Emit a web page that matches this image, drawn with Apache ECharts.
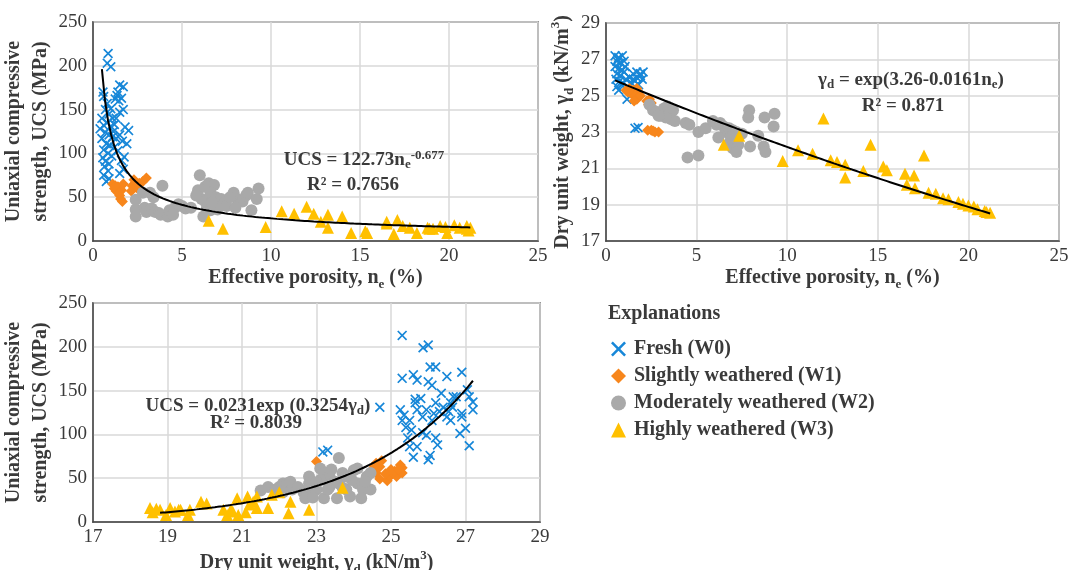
<!DOCTYPE html>
<html>
<head>
<meta charset="utf-8">
<script src="https://cdn.jsdelivr.net/npm/echarts@6/dist/echarts.min.js"></script>
<style>
  html, body { margin: 0; padding: 0; background: #fff; }
  #chart { width: 1072px; height: 570px; }
</style>
</head>
<body>
<div id="chart"></div>
<script>
// effective porosity (%) vs UCS (MPa)
const poroUcsW0 = [[0.85,214],[0.8,203],[1.0,199],[0.56,170],[0.6,165],[1.5,178],[1.7,176],[1.35,166],[1.45,160],[1.6,163],[1.25,162],[1.7,150],[0.7,150],[1.5,147],[0.5,140],[0.9,145],[1.1,140],[0.6,132],[0.8,135],[1.0,131],[1.2,133],[1.8,130],[2.0,126],[0.4,128],[0.7,124],[0.9,121],[1.1,119],[1.3,117],[1.5,121],[1.65,114],[0.5,117],[0.75,111],[0.95,109],[1.2,107],[0.6,104],[0.85,100],[1.05,97],[1.4,103],[0.55,95],[0.7,91],[0.9,88],[1.6,92],[0.65,85],[0.85,80],[1.7,82],[0.6,75],[0.9,71],[1.5,77],[0.75,68],[1.75,96],[1.0,151],[1.3,140],[0.8,157],[1.9,111],[1.15,125],[1.4,170]]
const poroUcsW1 = [[1.1,65],[1.2,60],[1.3,57],[1.4,62],[1.5,52],[1.55,48],[1.6,58],[1.7,65],[1.45,55],[2.2,63],[2.3,70],[2.4,67],[2.5,60],[2.6,66],[2.8,68],[3.0,72],[2.15,57],[2.45,62],[1.25,63],[1.65,45]]
const poroUcsW2 = [[2.4,47],[2.4,36],[2.4,28],[2.8,55],[2.9,38],[3.0,33],[3.2,55],[3.4,50],[3.3,37],[3.5,33],[3.7,32],[3.9,63],[3.8,30],[4.2,28],[4.3,35],[4.6,38],[5.0,40],[5.2,37],[5.5,38],[4.8,42],[6.0,75],[5.9,58],[6.1,48],[6.3,45],[6.3,62],[6.5,66],[6.8,64],[6.6,55],[6.9,50],[7.0,42],[7.2,48],[7.4,44],[6.4,38],[6.6,35],[7.0,36],[6.2,28],[7.5,40],[7.9,55],[8.1,48],[8.4,45],[8.6,52],[8.7,55],[8.9,35],[9.2,48],[9.3,60],[8.0,38],[7.7,50],[6.7,44],[5.8,52],[4.5,30]]
const poroUcsW3 = [[6.5,23],[7.3,14],[9.7,16],[10.6,34],[11.3,31],[12.0,39],[12.4,31],[12.8,22],[13.2,30],[13.2,15],[14.0,28],[14.5,9],[15.3,11],[15.4,9],[16.5,20],[16.5,22],[17.1,24],[16.9,8],[17.4,17],[17.8,15],[18.2,9],[18.8,15],[19.1,14],[19.5,17],[19.8,16],[19.9,9],[20.3,18],[20.6,15],[21.0,14],[21.1,12],[21.2,15],[21.0,17],[18.9,14]]

// effective porosity (%) vs dry unit weight (kN/m3)
const poroDryW0 = [[0.5,27.2],[0.7,27.1],[0.9,27.2],[0.6,26.9],[0.8,26.8],[1.0,26.9],[0.5,26.6],[0.7,26.5],[0.9,26.4],[0.6,26.2],[0.8,26.1],[1.0,26.3],[0.55,25.9],[0.75,25.8],[0.95,25.7],[1.1,25.9],[1.3,26.0],[1.5,26.2],[1.7,26.3],[1.9,26.2],[2.0,25.9],[1.4,25.7],[1.6,25.8],[1.8,25.6],[1.2,25.5],[0.6,25.5],[0.85,25.6],[1.05,26.6],[0.65,27.0],[1.7,26.0],[1.9,26.1],[2.05,26.3],[1.5,25.9],[0.7,25.3],[1.16,24.8],[1.6,23.2],[1.77,23.25]]
const poroDryW1 = [[1.1,25.3],[1.3,25.4],[1.5,25.3],[1.7,25.4],[1.8,25.2],[1.4,25.1],[1.6,25.0],[1.7,24.8],[1.9,25.0],[1.55,24.7],[2.25,24.7],[2.4,24.8],[2.5,24.6],[2.35,24.5],[2.3,23.1],[2.5,23.1],[2.7,23.0],[2.9,23.0],[2.6,23.05],[1.2,25.2]]
const poroDryW2 = [[2.4,24.5],[2.6,24.2],[2.8,24.1],[3.0,23.9],[3.2,24.3],[3.4,24.4],[3.5,24.0],[3.6,23.7],[3.7,24.2],[3.8,23.6],[3.3,23.8],[2.9,23.9],[4.4,23.5],[4.6,23.4],[4.5,21.6],[5.1,21.7],[5.1,23.0],[5.5,23.2],[5.9,23.6],[6.1,23.4],[6.3,23.5],[6.5,23.3],[6.6,23.0],[6.8,23.2],[7.0,23.1],[7.2,23.0],[6.2,22.7],[6.8,22.4],[7.0,22.1],[7.3,22.3],[7.2,21.9],[7.9,24.2],[7.85,23.8],[7.95,22.2],[8.4,22.8],[8.7,22.2],[8.75,23.8],[9.3,24.0],[9.25,23.3],[8.8,21.9],[6.9,22.7],[7.5,22.9]]
const poroDryW3 = [[6.5,22.3],[7.35,22.8],[9.75,21.4],[10.6,22.0],[11.4,21.8],[12.0,23.75],[12.4,21.45],[12.75,21.35],[13.2,21.2],[13.2,20.5],[14.2,20.85],[14.6,22.3],[15.3,21.1],[15.5,20.9],[16.5,20.7],[16.6,20.1],[17.0,20.6],[17.05,19.9],[17.55,21.7],[17.8,19.65],[18.2,19.6],[18.6,19.35],[18.9,19.3],[19.45,19.15],[19.7,19.05],[20.0,18.95],[20.3,18.9],[20.5,18.75],[20.9,18.65],[21.2,18.55],[21.0,18.6]]

// dry unit weight (kN/m3) vs UCS (MPa)
const dryUcsW0 = [[25.3,213],[25.86,199],[26.0,202],[26.05,177],[26.2,177],[25.3,164],[25.6,168],[25.7,162],[26.5,166],[26.9,171],[26.0,160],[26.1,156],[26.35,147],[26.67,143],[27.05,151],[27.1,143],[27.2,137],[27.2,128],[26.9,124],[27.0,107],[26.85,101],[27.1,87],[24.7,131],[25.25,128],[25.3,116],[25.4,108],[25.45,96],[25.5,86],[25.7,86],[25.6,74],[26.05,76],[26.0,71],[26.2,96],[26.25,88],[25.65,136],[25.7,128],[25.85,120],[25.95,128],[26.1,116],[26.2,136],[26.3,126],[26.5,120],[26.6,136],[26.65,131],[26.75,143],[25.85,102],[25.95,99],[25.5,116],[25.55,105],[26.6,116],[26.9,120],[25.8,141],[23.17,80],[23.3,82],[25.65,140],[26.4,131],[26.15,124],[25.35,122],[26.55,126]]
const dryUcsW1 = [[23.0,69],[24.5,60],[24.6,67],[24.7,63],[24.75,70],[24.6,56],[24.7,49],[24.9,47],[24.97,52],[25.05,56],[25.15,52],[25.1,58],[25.3,62],[25.3,56],[25.25,65],[24.85,55],[25.0,60],[24.55,64],[25.2,60]]
const dryUcsW2 = [[21.5,36],[21.7,40],[21.9,37],[22.0,40],[22.1,44],[22.2,44],[22.3,46],[22.35,37],[22.1,34],[22.8,52],[22.8,44],[22.65,34],[22.75,37],[22.7,27],[23.0,37],[22.9,28],[23.1,61],[23.2,56],[23.6,73],[23.35,52],[23.5,46],[23.2,27],[23.55,27],[23.8,37],[23.7,56],[24.0,59],[24.1,44],[24.25,37],[24.35,52],[24.45,37],[24.2,27],[23.9,29],[23.35,40],[24.45,56],[24.1,61],[23.6,44],[23.1,48],[23.3,37],[23.7,39],[23.95,48],[23.4,60],[23.0,45],[22.5,40],[24.3,46],[23.8,52]]
const dryUcsW3 = [[18.53,16],[18.6,11],[18.8,14],[18.96,8],[19.07,16],[19.3,14],[19.35,14],[19.6,14],[19.55,8],[19.9,23],[20.05,21],[20.5,14],[20.6,8],[20.7,14],[20.9,8],[20.87,27],[21.15,29],[21.1,11],[21.3,23],[21.4,29],[21.4,16],[21.7,16],[21.8,31],[22.0,34],[22.3,23],[22.25,10],[22.8,14],[23.7,39],[18.7,15],[19.2,12],[20.75,12],[21.2,20]]

// fitted trendlines as printed on the figure
const fitPoroUcs = { a: 122.73, b: -0.677, from: 0.5, to: 21.2 }
const fitPoroDry = { a: 3.26, b: 0.0161, from: 0.5, to: 21.2 }
const fitDryUcs = { a: 0.0231, b: 0.3254, from: 18.8, to: 27.2 }

const groupNames = ['Fresh (W0)', 'Slightly weathered (W1)', 'Moderately weathered (W2)', 'Highly weathered (W3)']
const groupColors = ['#1787d8', '#f7861c', '#a9a9a9', '#ffc000']
const crossPath = 'path://M1.2,0L5,3.8L8.8,0L10,1.2L6.2,5L10,8.8L8.8,10L5,6.2L1.2,10L0,8.8L3.8,5L0,1.2Z'
const groupSymbols = [crossPath, 'diamond', 'circle', 'triangle']
const groupSizes = [10, 11, 12, 12]

const serif = 'Liberation Serif'
const txt = '#3a3a3a'

function curve (fn, from, to) {
  const pts = []
  const n = 120
  for (let i = 0; i <= n; i++) {
    const x = from + (to - from) * i / n
    pts.push([x, fn(x)])
  }
  return pts
}

const richName = {
  b: { fontFamily: serif, fontWeight: 'bold', fontSize: 20, color: txt, lineHeight: 27 },
  sub: { fontFamily: serif, fontWeight: 'bold', fontSize: 13, color: txt, lineHeight: 14, verticalAlign: 'bottom' },
  sup: { fontFamily: serif, fontWeight: 'bold', fontSize: 13, color: txt, lineHeight: 14, verticalAlign: 'top' }
}

function xAxis (gi, min, max, interval, name, gap) {
  return {
    gridIndex: gi, type: 'value', min, max, interval,
    name, nameLocation: 'middle', nameGap: gap,
    nameTextStyle: { rich: richName },
    axisLine: { show: true, lineStyle: { color: '#444', width: 1.5 } },
    axisTick: { show: false },
    axisLabel: { fontFamily: serif, fontSize: 19, color: txt, margin: 6 },
    splitLine: { show: true, lineStyle: { color: '#d9d9d9', width: 1.5 } }
  }
}

function yAxis (gi, min, max, interval, name, gap) {
  return {
    gridIndex: gi, type: 'value', min, max, interval,
    name, nameLocation: 'middle', nameGap: gap, nameRotate: 90,
    nameTextStyle: { rich: richName, lineHeight: 27 },
    axisLine: { show: true, lineStyle: { color: '#444', width: 1.5 } },
    axisTick: { show: false },
    axisLabel: { fontFamily: serif, fontSize: 19, color: txt, margin: 6 },
    splitLine: { show: true, lineStyle: { color: '#d9d9d9', width: 1.5 } }
  }
}

const panels = [
  [poroUcsW0, poroUcsW1, poroUcsW2, poroUcsW3],
  [poroDryW0, poroDryW1, poroDryW2, poroDryW3],
  [dryUcsW0, dryUcsW1, dryUcsW2, dryUcsW3]
]

const series = []
panels.forEach((groups, gi) => {
  groups.forEach((data, k) => {
    series.push({
      name: groupNames[k],
      type: 'scatter',
      xAxisIndex: gi,
      yAxisIndex: gi,
      symbol: groupSymbols[k],
      symbolSize: groupSizes[k],
      itemStyle: { color: groupColors[k], opacity: 1 },
      data,
      z: 2 + k
    })
  })
})

const trendStyle = { color: '#000', width: 2 }
series.push({
  type: 'line', xAxisIndex: 0, yAxisIndex: 0, showSymbol: false, silent: true, z: 10,
  lineStyle: trendStyle,
  data: curve(x => fitPoroUcs.a * Math.pow(x, fitPoroUcs.b), fitPoroUcs.from, fitPoroUcs.to)
})
series.push({
  type: 'line', xAxisIndex: 1, yAxisIndex: 1, showSymbol: false, silent: true, z: 10,
  lineStyle: trendStyle,
  data: curve(x => Math.exp(fitPoroDry.a - fitPoroDry.b * x), fitPoroDry.from, fitPoroDry.to)
})
series.push({
  type: 'line', xAxisIndex: 2, yAxisIndex: 2, showSymbol: false, silent: true, z: 10,
  lineStyle: trendStyle,
  data: curve(x => fitDryUcs.a * Math.exp(fitDryUcs.b * x), fitDryUcs.from, fitDryUcs.to)
})

const eqRich = {
  b: { fontFamily: serif, fontWeight: 'bold', fontSize: 19, fill: txt, lineHeight: 22 },
  sub: { fontFamily: serif, fontWeight: 'bold', fontSize: 13, fill: txt, lineHeight: 12, verticalAlign: 'bottom' },
  sup: { fontFamily: serif, fontWeight: 'bold', fontSize: 13, fill: txt, lineHeight: 12, verticalAlign: 'top' }
}

function eq (x, y, text) {
  return {
    type: 'text', x, y, z: 100,
    style: { text, rich: eqRich, align: 'center', verticalAlign: 'middle' }
  }
}

const gridBase = { show: true, borderColor: '#444', borderWidth: 1.5, outerBoundsMode: 'none', containLabel: false }

const chart = echarts.init(document.getElementById('chart'))
chart.setOption({
  animation: false,
  backgroundColor: '#fff',
  title: {
    text: 'Explanations', left: 603, top: 299,
    textStyle: { fontFamily: serif, fontWeight: 'bold', fontSize: 20, color: txt }
  },
  legend: {
    orient: 'vertical', left: 606, top: 334,
    itemWidth: 15, itemHeight: 15, itemGap: 7,
    textStyle: { fontFamily: serif, fontWeight: 'bold', fontSize: 20, color: txt, padding: [0, 0, 0, 3] },
    data: groupNames.map((n, k) => ({ name: n, icon: groupSymbols[k] }))
  },
  grid: [
    Object.assign({ left: 93, top: 22, width: 445, height: 219 }, gridBase),
    Object.assign({ left: 606, top: 23, width: 453, height: 218 }, gridBase),
    Object.assign({ left: 93, top: 303, width: 447, height: 219 }, gridBase)
  ],
  xAxis: [
    xAxis(0, 0, 25, 5, '{b|Effective porosity, n}{sub|e}{b| (%)}', 23),
    xAxis(1, 0, 25, 5, '{b|Effective porosity, n}{sub|e}{b| (%)}', 23),
    xAxis(2, 17, 29, 2, '{b|Dry unit weight, γ}{sub|d}{b| (kN/m}{sup|3}{b|)}', 27)
  ],
  yAxis: [
    yAxis(0, 0, 250, 50, '{b|Uniaxial compressive}\n{b|strength, UCS (MPa)}', 33),
    yAxis(1, 17, 29, 2, '{b|Dry unit weight, γ}{sub|d}{b| (kN/m}{sup|3}{b|)}', 30),
    yAxis(2, 0, 250, 50, '{b|Uniaxial compressive}\n{b|strength, UCS (MPa)}', 33)
  ],
  graphic: [
    eq(364, 160, '{b|UCS = 122.73n}{sub|e}{sup|-0.677}'),
    eq(353, 185, '{b|R² = 0.7656}'),
    eq(911, 80, '{b|γ}{sub|d}{b| = exp(3.26-0.0161n}{sub|e}{b|)}'),
    eq(903, 106, '{b|R² = 0.871}'),
    eq(258, 406, '{b|UCS = 0.0231exp (0.3254γ}{sub|d}{b|)}'),
    eq(256, 423, '{b|R² = 0.8039}')
  ],
  series
})
</script>
</body>
</html>
